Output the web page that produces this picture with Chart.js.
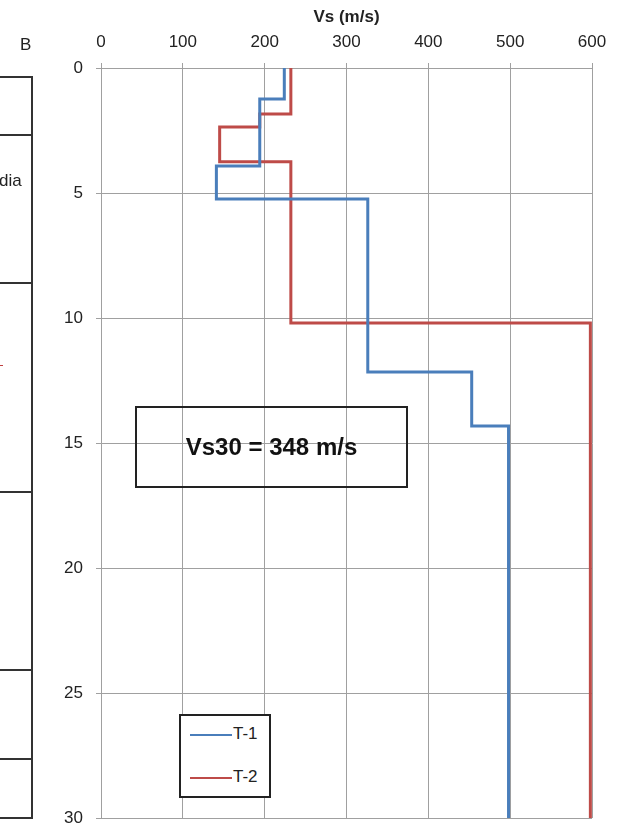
<html>

<head>
    <title>Vs profile</title>
    <script src="https://cdn.jsdelivr.net/npm/chart.js@4"></script>
    <style>
        body { margin: 0; background: #fff; font-family: "Liberation Sans", Arial, sans-serif; }
        #wrap { position: relative; width: 627px; height: 824px; overflow: hidden; }
        #vsChart { position: absolute; left: 0; top: 0; }
        .hl { position: absolute; left: 0; width: 33px; height: 0; border-top: 2px solid #333; }
        .txt { position: absolute; color: #222; font-size: 17px; }
    </style>
</head>

<body>
    <div id="wrap">
        <canvas id="vsChart" width="627" height="824"></canvas>

        <!-- left strip of the borehole log -->
        <div class="txt" style="left: 20px; top: 35px;">B</div>
        <div style="position: absolute; left: 31px; top: 76px; width: 0; height: 743px; border-left: 2px solid #333;"></div>
        <div class="hl" style="top: 76px;"></div>
        <div class="hl" style="top: 134px;"></div>
        <div class="hl" style="top: 282px;"></div>
        <div class="hl" style="top: 491px;"></div>
        <div class="hl" style="top: 669px;"></div>
        <div class="hl" style="top: 758px;"></div>
        <div class="hl" style="top: 817px;"></div>
        <div class="txt" style="left: -1px; top: 171px;">dia</div>
        <div style="position: absolute; left: 0; top: 365px; width: 3px; height: 1px; background: #c04040;"></div>

        <!-- Vs30 box -->
        <div style="position: absolute; left: 135px; top: 406px; width: 269px; height: 78px; border: 2px solid #222;
            display: flex; align-items: center; justify-content: center; font-weight: bold; font-size: 24px; color: #111;">
            Vs30 = 348 m/s</div>

        <!-- legend -->
        <div style="position: absolute; left: 179px; top: 714px; width: 88px; height: 80px; border: 2px solid #222; background: #fff;">
            <div style="position: absolute; left: 9px; top: 18px; width: 42px; height: 2px; background: #4a7ebb;"></div>
            <div class="txt" style="left: 52px; top: 8px;">T-1</div>
            <div style="position: absolute; left: 9px; top: 61px; width: 42px; height: 2px; background: #be4b48;"></div>
            <div class="txt" style="left: 52px; top: 51px;">T-2</div>
        </div>
    </div>

    <script>
        // layer boundaries (m) and shear wave velocity of each layer (m/s)
        var t1Depths = [0, 1.24, 3.92, 5.24, 12.16, 14.32, 30];
        var t1Vs = [224, 194, 141, 326, 453, 498];
        var t2Depths = [0, 1.84, 2.36, 3.75, 10.2, 30];
        var t2Vs = [232, 194, 145, 232, 598];

        var xTicks = [0, 100, 200, 300, 400, 500, 600];
        var yTicks = [0, 5, 10, 15, 20, 25, 30];

        function stepPoints(depths, vs) {
            var pts = [];
            for (let i = 0; i < vs.length; i++) {
                pts.push({ x: vs[i], y: depths[i] });
                pts.push({ x: vs[i], y: depths[i + 1] });
            }
            return pts;
        }

        var gridColor = '#a0a0a0';
        var tickFont = { family: 'Liberation Sans', size: 17 };

        const config = {
            type: 'scatter',
            data: {
                datasets: [
                    {
                        label: 'T-1',
                        data: stepPoints(t1Depths, t1Vs),
                        showLine: true,
                        borderColor: '#4a7ebb',
                        borderWidth: 3,
                        pointRadius: 0
                    },
                    {
                        label: 'T-2',
                        data: stepPoints(t2Depths, t2Vs),
                        showLine: true,
                        borderColor: '#be4b48',
                        borderWidth: 3,
                        pointRadius: 0
                    }
                ]
            },
            options: {
                responsive: false,
                animation: false,
                layout: { padding: { left: 0, right: 35, top: 0, bottom: 6 } },
                plugins: { legend: { display: false }, tooltip: { enabled: false } },
                scales: {
                    x: {
                        type: 'linear',
                        position: 'top',
                        min: 0,
                        max: 600,
                        afterBuildTicks: (s) => { s.ticks = xTicks.map(v => ({ value: v })); },
                        afterFit: (s) => { s.height = 68; s.paddingLeft = 0; s.paddingRight = 0; },
                        ticks: { color: '#222', font: tickFont, padding: 10, maxRotation: 0 },
                        grid: { color: gridColor, tickLength: 5, lineWidth: 1 },
                        border: { color: gridColor },
                        title: {
                            display: true,
                            text: 'Vs (m/s)',
                            color: '#222',
                            font: { family: 'Liberation Sans', size: 17, weight: 'bold' },
                            padding: { top: 7, bottom: 0 }
                        }
                    },
                    y: {
                        type: 'linear',
                        reverse: true,
                        min: 0,
                        max: 30,
                        afterBuildTicks: (s) => { s.ticks = yTicks.map(v => ({ value: v })); },
                        afterFit: (s) => { s.width = 101; s.paddingTop = 0; s.paddingBottom = 0; },
                        ticks: { color: '#222', font: tickFont, padding: 13 },
                        grid: { color: gridColor, tickLength: 5, lineWidth: 1 },
                        border: { color: gridColor }
                    }
                }
            }
        };

        var ctx = document.getElementById("vsChart").getContext("2d");
        var vsChart = new Chart(ctx, config);
    </script>
</body>

</html>
